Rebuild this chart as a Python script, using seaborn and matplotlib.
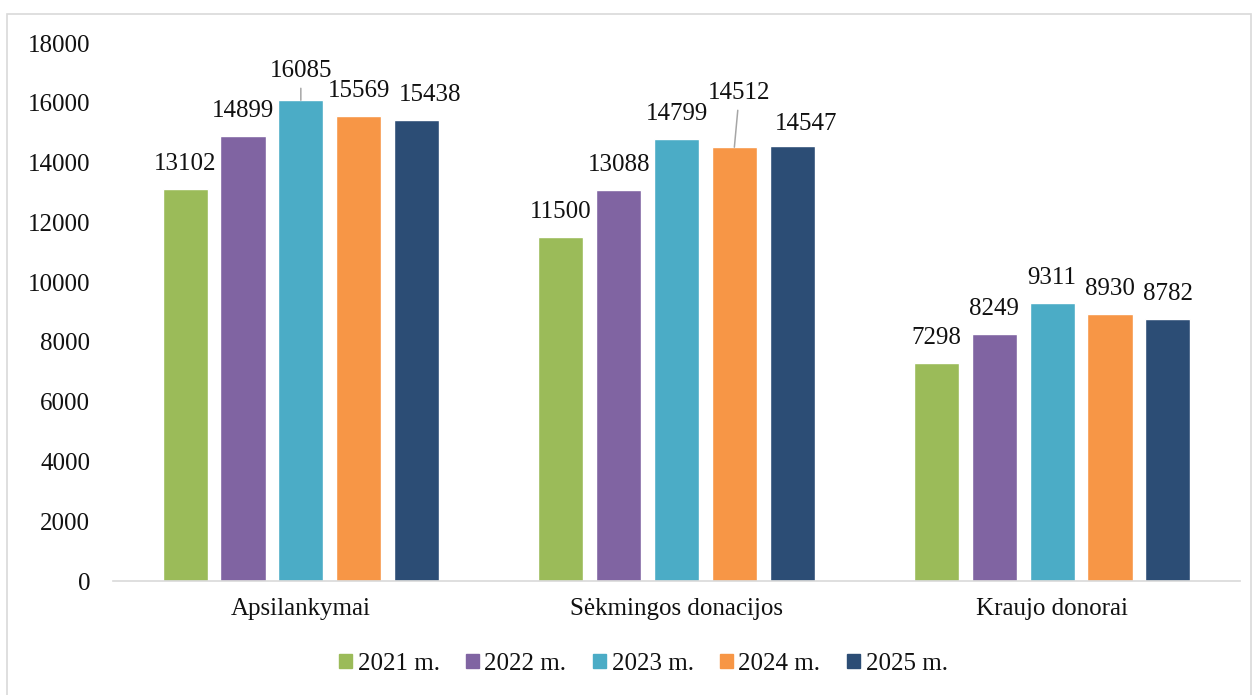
import numpy as np
import pandas as pd
import matplotlib; matplotlib.use("Agg")
import matplotlib.pyplot as plt
import seaborn as sns
from matplotlib.patches import Patch, Rectangle

# ── data ─────────────────────────────────────────────────────────────
categories = ["Apsilankymai", "Sėkmingos donacijos", "Kraujo donorai"]
years = ["2021 m.", "2022 m.", "2023 m.", "2024 m.", "2025 m."]
v2021 = [13102, 11500, 7298]
v2022 = [14899, 13088, 8249]
v2023 = [16085, 14799, 9311]
v2024 = [15569, 14512, 8930]
v2025 = [15438, 14547, 8782]
yticks = list(range(0, 18001, 2000))

COLORS = ["#9BBB59", "#8064A2", "#4BACC6", "#F79646", "#2C4D75"]

# label nudges (pixels) for the few labels Excel moved by hand
LABEL_OFFSETS = {
    ("Apsilankymai", "2023 m."): (0, 29, True),
    ("Apsilankymai", "2025 m."): (14, 25, False),
    ("Sėkmingos donacijos", "2024 m."): (5, 54, True),
    ("Sėkmingos donacijos", "2025 m."): (14, 22, False),
}

rows = []
for yr, vals in zip(years, [v2021, v2022, v2023, v2024, v2025]):
    for cat, v in zip(categories, vals):
        rows.append({"category": cat, "year": yr, "value": v})
df = pd.DataFrame(rows)

sns.set_style("white")
plt.rcParams["font.family"] = ["Liberation Serif", "DejaVu Serif"]

W, H = 1259, 695
fig = plt.figure(figsize=(W / 100, H / 100), dpi=100)
ax = fig.add_axes([113 / W, 1 - 581 / H, (1240 - 113) / W, (581 - 43) / H])

sns.barplot(data=df, x="category", y="value", hue="year", order=categories,
            hue_order=years, palette=COLORS, width=0.77, gap=0.22,
            saturation=1, legend=False, ax=ax)

ax.set_ylim(0, 18000)
ax.set_xlim(-0.5, 2.5)
ax.set_yticks(yticks)
ax.set_yticklabels([str(t) for t in yticks])
ax.set_xlabel("")
ax.set_ylabel("")
ax.tick_params(axis="y", length=0, pad=16.5, labelsize=18, colors="#111111")
ax.tick_params(axis="x", length=0, pad=12, labelsize=18, colors="#111111")
for s in ["top", "right", "left"]:
    ax.spines[s].set_visible(False)
ax.spines["bottom"].set_color("#d9d9d9")
ax.spines["bottom"].set_linewidth(1.2)
ax.grid(False)

# ── data labels ──────────────────────────────────────────────────────
for yr, cont in zip(years, ax.containers):
    for cat, bar in zip(categories, cont):
        h = bar.get_height()
        cx = bar.get_x() + bar.get_width() / 2
        dx, dy, leader = LABEL_OFFSETS.get((cat, yr), (0, 25, False))
        kw = {}
        if leader:
            kw["arrowprops"] = dict(arrowstyle="-", color="#a6a6a6", lw=1.1,
                                    shrinkA=2, shrinkB=0)
        ax.annotate(f"{int(h)}", xy=(cx, h), xytext=(dx, dy),
                    textcoords="offset pixels", ha="center", va="center",
                    fontsize=18, color="#111111", **kw)

# ── legend ───────────────────────────────────────────────────────────
handles = [Patch(color=c, label=l) for l, c in zip(years, COLORS)]
fig.legend(handles=handles, loc="center", ncol=5, frameon=False,
           bbox_to_anchor=(643 / W, 1 - 664 / H), fontsize=18,
           handlelength=0.52, handleheight=0.52, handletextpad=0.24,
           columnspacing=1.04, labelcolor="#111111")

# chart-area border
fig.add_artist(Rectangle((7 / W, -10 / H), (1251 - 7) / W, (H + 10 - 14) / H,
                         transform=fig.transFigure, fill=False,
                         edgecolor="#d9d9d9", linewidth=1.2, clip_on=False))

fig.savefig("out.png", dpi=100)
